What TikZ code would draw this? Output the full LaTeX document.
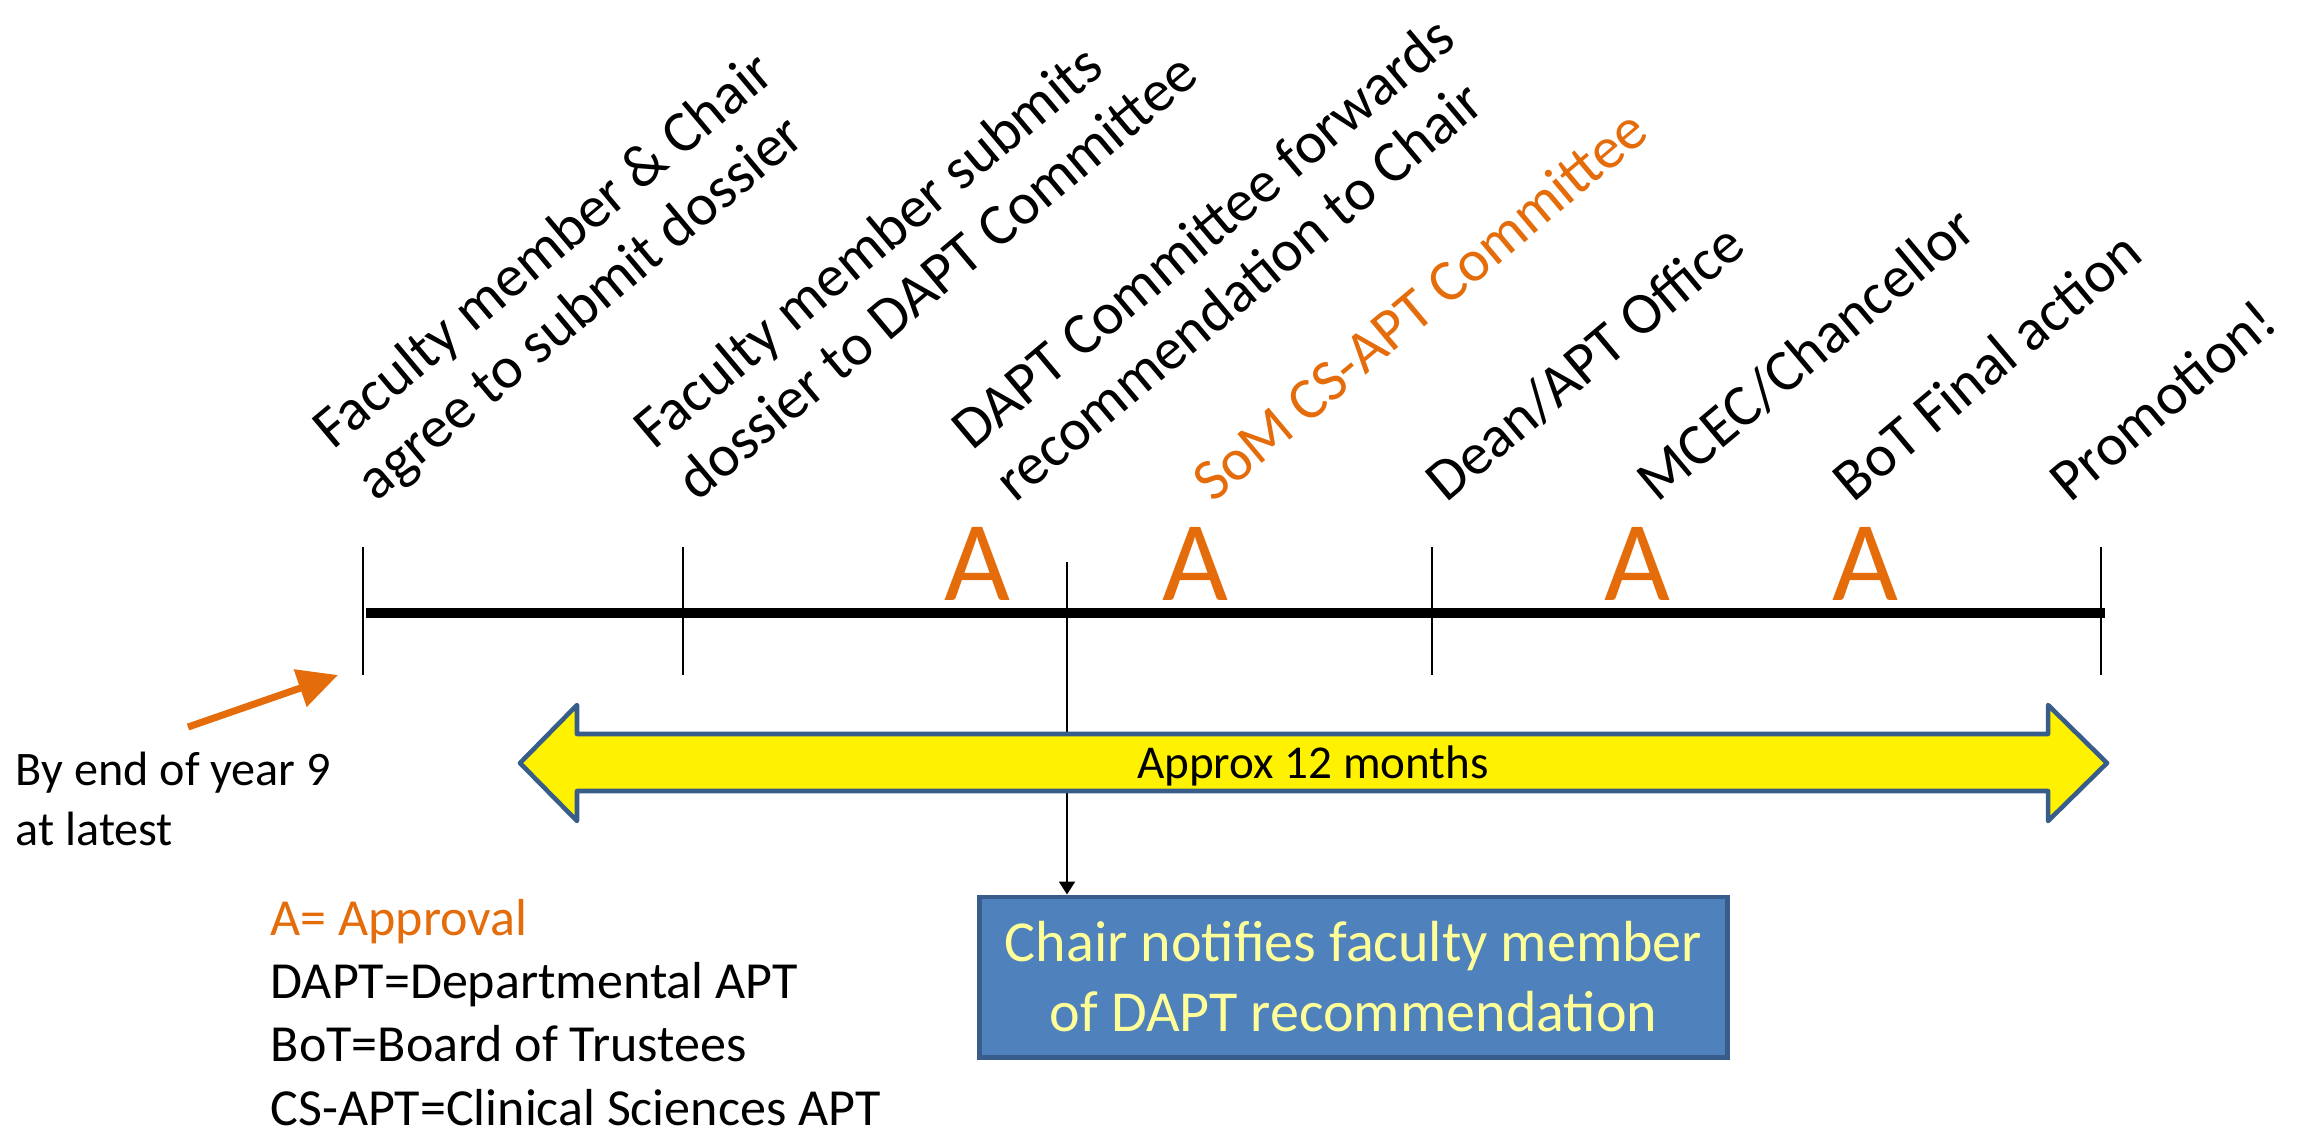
\documentclass[tikz,border=0pt]{standalone}
\usepackage{fontspec}
\setmainfont{Carlito}
\usetikzlibrary{arrows.meta}
\definecolor{apporange}{HTML}{E46C0A}
\definecolor{spanblue}{HTML}{385D8A}
\definecolor{boxblue}{HTML}{4F81BD}
\definecolor{paleyellow}{HTML}{FFFF99}
\tikzset{
  steplabel/.style={rotate=40, anchor=base west, align=left,
    font=\fontsize{16.8pt}{19.2pt}\selectfont},
  approve/.style={anchor=base, text=apporange, font=\fontsize{32.4pt}{38pt}\selectfont},
  tick/.style={black, line width=0.45pt},
  timeline/.style={black, line width=2.85pt},
  notebox/.style={draw=spanblue, fill=boxblue, line width=1.4pt, text=paleyellow,
    align=center, minimum width=7.47cm, minimum height=1.6cm,
    font=\fontsize{16.5pt}{19.9pt}\selectfont}
}
\begin{document}
\begin{tikzpicture}[x=0.01cm, y=-0.01cm]
	\tikzstyle{every node}+=[inner sep=0pt]
	\useasboundingbox (0,0) rectangle (2298,1132);
	% ticks on the timeline
	\coordinate (t1) at (363,613);
	\coordinate (t2) at (683,613);
	\coordinate (t3) at (1067,613);
	\coordinate (t4) at (1432,613);
	\coordinate (t5) at (2101,613);
	\draw [timeline] (366,613) -- (2105,613);
	\foreach \t in {t1,t2,t4,t5}
		\draw [tick] (\t) ++(0,-66) -- ++(0,128);
	% steps (anchored at the start of the last line)
	\node [steplabel] (agree) at (376,503) {Faculty member \& Chair\\agree to submit dossier};
	\node [steplabel] (submit) at (697,503) {Faculty member submits\\dossier to DAPT Committee};
	\node [steplabel] (forward) at (1015,504) {DAPT Committee forwards\\recommendation to Chair};
	\node [steplabel, text=apporange] (csapt) at (1213,504) {SoM CS-APT Committee};
	\node [steplabel] (dean) at (1446,504) {Dean/APT Office};
	\node [steplabel] (mcec) at (1657,504) {MCEC/Chancellor};
	\node [steplabel] (bot) at (1853,504) {BoT Final action};
	\node [steplabel] (promo) at (2070,504) {Promotion!};
	\foreach \x in {977,1195,1637,1865}
		\node [approve] (A\x) at (\x,600) {A};
	% notification of the faculty member
	\node [notebox] (notify) at (1353.5,977) {Chair notifies faculty member\\of DAPT recommendation};
	\draw [black, line width=0.57pt, -{Triangle[length=0.13cm,width=0.16cm]}] (t3) ++(0,-51) -- (notify.north -| t3);
	% approx 12 months
	\draw [spanblue, fill=yellow, line width=1.3pt, line join=round] (520,763) -- (577,705) -- (577,734) -- (2048,734)
		-- (2048,705) -- (2107,763) -- (2048,821) -- (2048,791) -- (577,791) -- (577,821) -- cycle;
	\node [anchor=base, font=\fontsize{13.4pt}{16pt}\selectfont] (span) at (1313,778) {Approx 12 months};
	% deadline
	\node [anchor=base west, align=left, font=\fontsize{13.7pt}{16.9pt}\selectfont] (deadline) at (15,845) {By end of year 9\\at latest};
	\coordinate (tail) at (188,727);
	\draw [apporange, line width=2pt, -{Triangle[length=0.4cm,width=0.38cm]}] (tail) -- (338,675);
	% legend
	\node [anchor=base west, align=left, font=\fontsize{14.8pt}{18pt}\selectfont] (legend) at (270,1125)
		{\textcolor{apporange}{A= Approval}\\DAPT=Departmental APT\\BoT=Board of Trustees\\CS-APT=Clinical Sciences APT};
\end{tikzpicture}
\end{document}
